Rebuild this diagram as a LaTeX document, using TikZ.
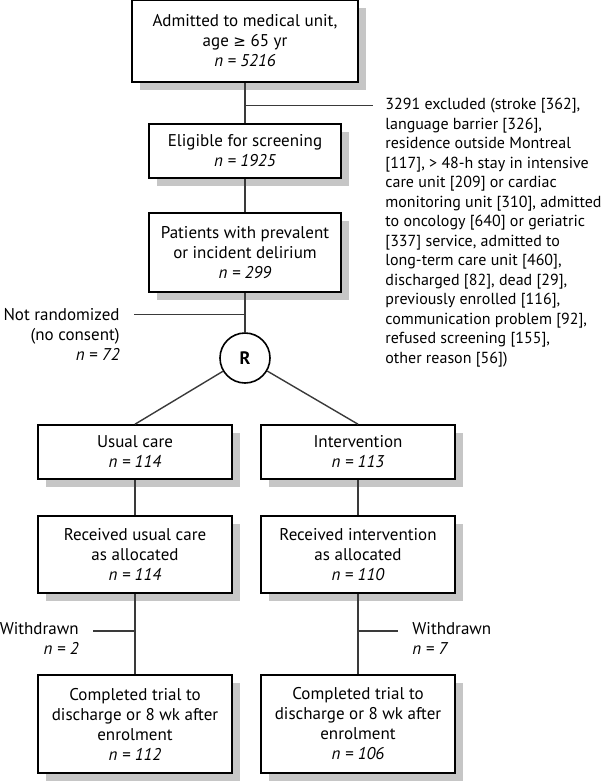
\documentclass[tikz,border=0pt]{standalone}
\usepackage{fontspec}
\setmainfont{PT Sans}
\newfontfamily\symfont{DejaVu Sans}
\usepackage{tikz}
\usetikzlibrary{shadows, positioning, calc}
\definecolor{linegray}{HTML}{3A3A3A}
\definecolor{shadowgray}{HTML}{C6C6C6}

\begin{document}
\begin{tikzpicture}[x=0.5pt, y=-0.5pt,
  box/.style={rectangle, draw=black, fill=white, line width=0.8pt,
              align=center, inner sep=0pt,
              font=\fontsize{8.5}{10}\selectfont,
              drop shadow={shadow xshift=4pt, shadow yshift=-4pt,
                           fill=shadowgray, opacity=1}},
  randc/.style={circle, draw=black, fill=white, line width=0.8pt,
                minimum size=25pt, inner sep=0pt,
                font=\fontsize{9}{10}\selectfont\bfseries},
  note/.style={inner sep=3pt, font=\fontsize{8.5}{10}\selectfont},
  trunk/.style={linegray, line width=0.7pt},
  twig/.style={linegray, line width=0.45pt},
]
  \useasboundingbox (0,0) rectangle (600,782);

  %% ── Screening column (x=245) ──────────────────────────────────────────
  \node[box, minimum width=113pt, minimum height=41pt] (adm)  at (245, 41)
       {Admitted to medical unit,\\age {\symfont\fontsize{7.5}{10}\selectfont ≥} 65 yr\\\textit{n = 5216}};
  \node[box, minimum width=96pt, minimum height=27pt]  (elig) at (245,151)
       {Eligible for screening\\\textit{n = 1925}};
  \node[box, minimum width=96pt, minimum height=39.5pt] (deli) at (245,252.5)
       {Patients with prevalent\\or incident delirium\\\textit{n = 299}};
  \node[randc] (rand) at (245,358) {R};

  %% ── Two arms (x=135 and x=358) ────────────────────────────────────────
  \node[box, minimum width=97pt, minimum height=27pt]   (usual)  at (135,452)
       {Usual care\\\textit{n = 114}};
  \node[box, minimum width=97pt, minimum height=27pt]   (interv) at (358,452)
       {Intervention\\\textit{n = 113}};
  \node[box, minimum width=97pt, minimum height=38.5pt] (recu)   at (135,554.5)
       {Received usual care\\as allocated\\\textit{n = 114}};
  \node[box, minimum width=97pt, minimum height=38.5pt] (reci)   at (358,554.5)
       {Received intervention\\as allocated\\\textit{n = 110}};
  \node[box, minimum width=97pt, minimum height=49pt]   (compu)  at (135,724)
       {Completed trial to\\discharge or 8 wk after\\enrolment\\\textit{n = 112}};
  \node[box, minimum width=97pt, minimum height=49pt]   (compi)  at (358,724)
       {Completed trial to\\discharge or 8 wk after\\enrolment\\\textit{n = 106}};

  %% ── Side notes ─────────────────────────────────────────────────────────
  \node[note, anchor=north west, align=left, font=\fontsize{8}{9.75}\selectfont] (excl) at (379,92)
       {3291 excluded (stroke [362],\\language barrier [326],\\
        residence outside Montreal\\{}[117], > 48-h stay in intensive\\
        care unit [209] or cardiac\\monitoring unit [310], admitted\\
        to oncology [640] or geriatric\\{}[337] service, admitted to\\
        long-term care unit [460],\\discharged [82], dead [29],\\
        previously enrolled [116],\\communication problem [92],\\
        refused screening [155],\\other reason [56])};
  \node[note, anchor=north east, align=right] (nrand) at (126,302)
       {Not randomized\\(no consent)\\\textit{n = 72}};
  \node[note, anchor=north east, align=right] (wdl) at (85,616)
       {Withdrawn\\\textit{n = 2}};
  \node[note, anchor=north west, align=left]  (wdr) at (406,616)
       {Withdrawn\\\textit{n = 7}};

  %% ── Junctions on the vertical lines ───────────────────────────────────
  \coordinate (exj) at (245,105);
  \coordinate (nrj) at (245,314);
  \coordinate (wlj) at (135,631);
  \coordinate (wrj) at (358,631);

  %% ── Main flow ──────────────────────────────────────────────────────────
  \draw[trunk] (adm)  -- (elig);
  \draw[trunk] (elig) -- (deli);
  \draw[trunk] (deli) -- (rand);
  \draw[trunk] (rand) -- (usual.north);
  \draw[trunk] (rand) -- (interv.north);
  \draw[trunk] (usual)  -- (recu);
  \draw[trunk] (interv) -- (reci);
  \draw[trunk] (recu) -- (compu);
  \draw[trunk] (reci) -- (compi);

  %% ── Exits ──────────────────────────────────────────────────────────────
  \draw[twig] (exj) -- ([xshift=-3pt]exj -| excl.west);
  \draw[twig] (nrj) -- ([xshift=4pt]nrj -| nrand.east);
  \draw[trunk] (wlj) -- ([xshift=4pt]wlj -| wdl.east);
  \draw[trunk] (wrj) -- ([xshift=-4pt]wrj -| wdr.west);

\end{tikzpicture}
\end{document}
